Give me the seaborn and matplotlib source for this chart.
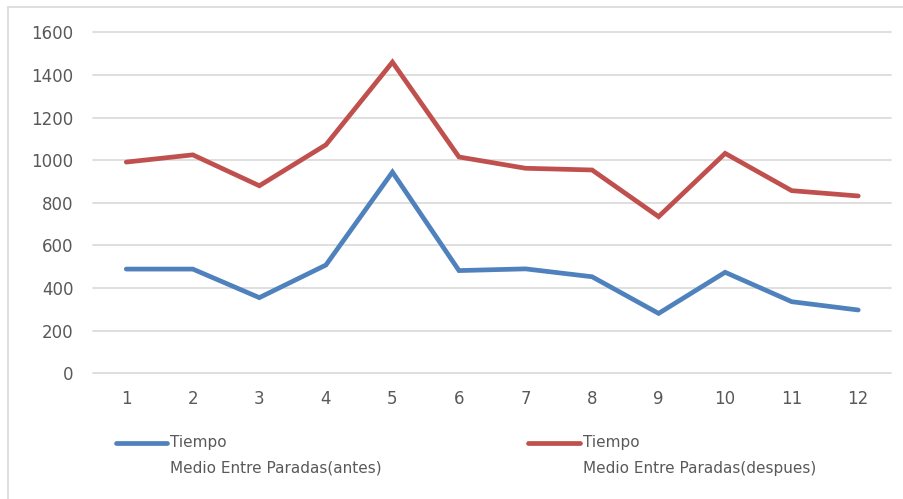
import matplotlib
matplotlib.use("Agg")
import matplotlib.pyplot as plt
from matplotlib.lines import Line2D
import pandas as pd
import seaborn as sns

# Series values per stop interval
periodos = [1, 2, 3, 4, 5, 6, 7, 8, 9, 10, 11, 12]
antes = [489, 489, 355, 508, 944, 482, 490, 453, 281, 474, 336, 297]
despues = [991, 1025, 880, 1072, 1460, 1015, 962, 954, 735, 1032, 857, 832]
serie_antes = "Tiempo\nMedio Entre Paradas(antes)"
serie_despues = "Tiempo\nMedio Entre Paradas(despues)"
y_ticks = [0, 200, 400, 600, 800, 1000, 1200, 1400, 1600]

colores = {serie_antes: "#4F81BD", serie_despues: "#C0504D"}

df = pd.DataFrame({
    "periodo": periodos * 2,
    "tiempo": antes + despues,
    "serie": [serie_antes] * len(antes) + [serie_despues] * len(despues),
})

sns.set_theme(style="white")
plt.rcParams["font.family"] = ["DejaVu Sans"]

W, H = 904, 499
fig = plt.figure(figsize=(9.04, 4.99), dpi=100)
ax = fig.add_axes([93 / W, 1 - 373.3 / H, (891.5 - 93) / W, (373.3 - 32.3) / H])

sns.lineplot(data=df, x="periodo", y="tiempo", hue="serie", palette=colores,
             linewidth=3.4, ax=ax, legend=False, solid_joinstyle="miter")

ax.set_xlim(0.5, 12.5)
ax.set_ylim(0, 1600)
ax.set_xticks(periodos)
ax.set_xticklabels([str(p) for p in periodos])
ax.set_yticks(y_ticks)
ax.set_yticklabels([str(v) for v in y_ticks])
ax.set_xlabel("")
ax.set_ylabel("")

ax.yaxis.grid(True, color="#d9d9d9", linewidth=1.2)
for gl in ax.get_ygridlines():
    gl.set_clip_on(False)
ax.set_axisbelow(True)
for s in ax.spines.values():
    s.set_visible(False)

ax.tick_params(axis="both", length=0, labelsize=12, labelcolor="#595959")
ax.tick_params(axis="x", pad=12)
ax.tick_params(axis="y", pad=14)

# Chart area border (top and left edges)
borde = dict(transform=fig.transFigure, color="#d9d9d9", linewidth=1.2)
fig.add_artist(Line2D([8 / W, 1.0], [1 - 7 / H, 1 - 7 / H], **borde))
fig.add_artist(Line2D([8 / W, 8 / W], [0.0, 1 - 7 / H], **borde))

# Legend drawn beneath the plot area
for (x0, x1, xt), serie in [((116, 167, 170), serie_antes), ((528, 580, 583), serie_despues)]:
    fig.add_artist(Line2D([x0 / W, x1 / W], [1 - 443 / H, 1 - 443 / H], transform=fig.transFigure,
                          color=colores[serie], linewidth=3.4, solid_capstyle="round"))
    primera, segunda = serie.split("\n")
    fig.text(xt / W, 1 - 443 / H, primera, fontsize=11, color="#595959", va="center", ha="left")
    fig.text(xt / W, 1 - 468 / H, segunda, fontsize=11, color="#595959", va="center", ha="left")

fig.savefig("out.png", dpi=100, facecolor="white")
